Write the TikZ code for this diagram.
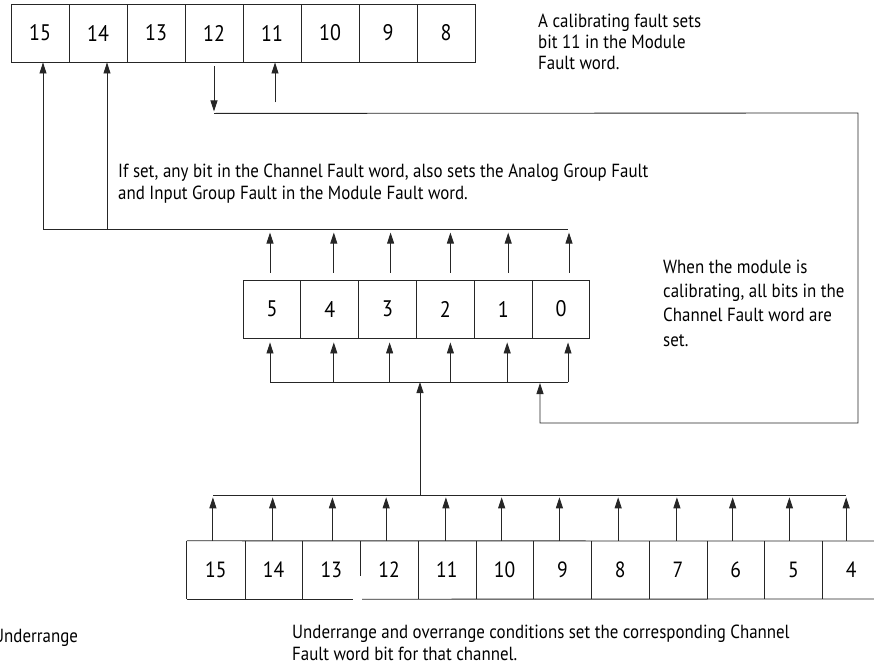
\documentclass[tikz,border=0pt]{standalone}
\usepackage{fontspec}
\setmainfont[FakeStretch=0.89]{PT Sans}
\usetikzlibrary{arrows.meta,calc}
\tikzset{
  bitbox/.style={draw=black!85,line width=0.85pt,minimum width=58pt,minimum height=58pt,inner sep=0pt,font=\fontsize{22.5}{26}\selectfont},
  bitcell/.style={minimum width=57.75pt,minimum height=58pt,inner sep=0pt,font=\fontsize{22}{26}\selectfont},
  conn/.style={draw=black!85,line width=0.85pt},
  arr/.style={conn,-{Triangle[length=11pt,width=7pt]}},
  note/.style={align=left,inner sep=0pt,anchor=base west,font=\fontsize{19}{21.5}\selectfont}
}
\begin{document}
\begin{tikzpicture}[x=1pt,y=-1pt]
\useasboundingbox (0,0) rectangle (874,669);
\clip (0,0) rectangle (874,669);
% top row (Module Fault word)
\foreach \n [count=\i from 0] in {15,14,13,12,11,10,9,8}
  \node[bitbox] (t\n) at (40+58*\i,33) {\n};
% middle row (Channel Fault word)
\foreach \n [count=\i from 0] in {5,4,3,2,1,0}
  \node[bitbox,minimum width=57.8pt] (m\n) at (272+57.8*\i,309) {\n};
% bottom row
\foreach \n [count=\i from 0] in {15,14,13,12,11,10,9,8,7,6,5,4}
  \node[bitcell] (b\n) at (215.9+57.75*\i,570) {\n};
\draw[conn] (b15.north west) -- (874,541);
\draw[conn] (b15.south west) -- ($(b13.south east)+(-7,0)$);
\draw[conn] ($(b12.south west)+(2,0)$) -- (874,599);
\draw[conn] (b15.north west) -- (b15.south west);
\foreach \n in {15,14,12,11,10,9,8,7,6,5}
  \draw[conn] (b\n.north east) -- (b\n.south east);
\draw[conn] (b13.north east) -- ($(b13.north east)+(0,35)$);
% bottom bus
\coordinate (bl) at (213,495);
\coordinate (br) at (846,495);
\draw[conn] (bl) -- (br);
\foreach \n/\dx in {15/-3,14/-1,13/1,12/-3,11/-1,10/-3,9/-3,8/-2,7/-1,6/-3,5/-4,4/-5}
  \draw[arr] ($(b\n.north)+(\dx,0)$) -- ($(b\n.north)+(\dx,-43.5)$);
% centre link to middle bus
\coordinate (cb) at (420,495);
\coordinate (mbus) at (0,382);
\draw[arr] (cb) -- (cb |- mbus);
% middle bus
\draw[conn] ($(m5.south)+(-2,44)$) -- ($(m0.south)+(7,44)$);
\foreach \n/\dx in {5/-2,4/4,3/2,2/5,1/4,0/7}
  \draw[arr] ($(m\n.south)+(\dx,44)$) -- ($(m\n.south)+(\dx,4)$);
% middle top arrows
\foreach \n/\dx in {5/-2,4/4,3/3,2/5,1/5,0/8}
  \draw[arr] ($(m\n.north)+(\dx,-7)$) -- ($(m\n.north)+(\dx,-47)$);
% line to Module Fault bits 15 and 14
\coordinate (h15) at (43,229);
\coordinate (h14) at (107,229);
\coordinate (hr) at (568,229);
\draw[conn] (h15) -- (hr);
\draw[arr] (h15) -- (h15 |- t15.south);
\draw[arr] (h14) -- (h14 |- t14.south);
% calibrating loop
\draw[arr] ($(t12.south)+(0,4)$) -- ($(t12.south)+(0,49)$);
\draw[arr] ($(t12.south)+(0,51)$) -- (858,113) -- (858,423) -- (540,423) -- (540,383);
\draw[arr] ($(t11.south)+(3,40)$) -- ($(t11.south)+(3,0)$);
% notes (anchored at the baseline of their last line)
\node[note] (n1) at (538,70) {A calibrating fault sets\\bit 11 in the Module\\Fault word.};
\node[note] (n2) at (118,199) {If set, any bit in the Channel Fault word, also sets the Analog Group Fault\\and Input Group Fault in the Module Fault word.};
\node[note,font=\fontsize{19}{24.3}\selectfont] (n3) at (663,346) {When the module is\\calibrating, all bits in the\\Channel Fault word are\\set.};
\node[note] (n4) at (292,660) {Underrange and overrange conditions set the corresponding Channel\\Fault word bit for that channel.};
\node[note] (n5) at (-7,642) {Underrange};
\end{tikzpicture}
\end{document}
